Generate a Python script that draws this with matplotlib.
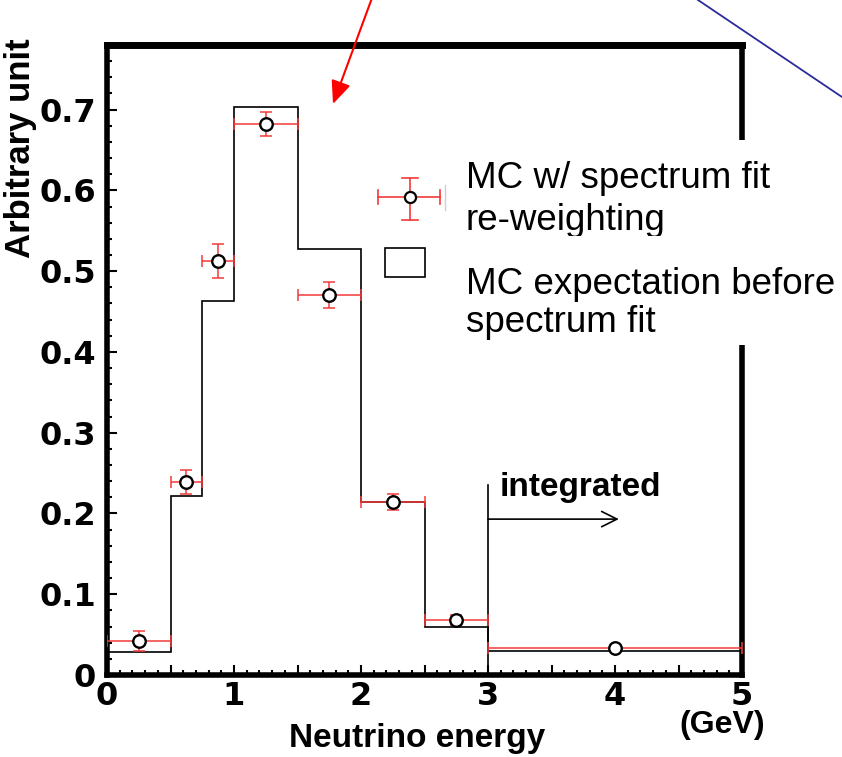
import matplotlib
matplotlib.use("Agg")
import matplotlib.pyplot as plt
from matplotlib.patches import Rectangle, FancyArrowPatch
from matplotlib.lines import Line2D
from matplotlib.ticker import FixedLocator, MultipleLocator, FuncFormatter

plt.rcParams['font.family'] = ['Liberation Sans', 'DejaVu Sans']

# histogram: MC expectation before spectrum fit
edges = [0, 0.5, 0.75, 1.0, 1.5, 2.0, 2.5, 3.0, 5.0]
mc_before = [0.028, 0.222, 0.463, 0.703, 0.528, 0.214, 0.060, 0.030]

# points: MC w/ spectrum fit re-weighting
fit_x = [0.25, 0.625, 0.875, 1.25, 1.75, 2.25, 2.75, 4.0]
fit_xerr = [0.25, 0.125, 0.125, 0.25, 0.25, 0.25, 0.25, 1.0]
fit_y = [0.042, 0.239, 0.513, 0.682, 0.470, 0.214, 0.068, 0.033]
fit_yerr = [0.012, 0.015, 0.021, 0.015, 0.016, 0.010, 0.006, 0.002]

# "integrated" marker
integ_x = 3.0
integ_top = 0.235
integ_arrow_y = 0.193
integ_arrow_end = 4.03

W, H = 842, 757


def fx(px):
    return px / W


def fy(py):
    return 1 - py / H


fig = plt.figure(figsize=(W / 100, H / 100), dpi=100)
ax = fig.add_axes([fx(107), fy(675), fx(742) - fx(107), fy(45) - fy(675)])
ax.set_xlim(0, 5)
ax.set_ylim(0, 0.78)

red = '#f23a3a'

ax.stairs(mc_before, edges, baseline=None, color='black', lw=1.2, zorder=2)
ax.errorbar(fit_x, fit_y, xerr=fit_xerr, yerr=fit_yerr, fmt='none',
            ecolor=red, elinewidth=1.1, capsize=4, capthick=1.1, zorder=3)
ax.plot(fit_x, fit_y, 'o', ms=9, mfc='white', mec='black', mew=1.7,
        zorder=4, ls='none')

# integrated region
ax.plot([integ_x, integ_x], [0, integ_top], color='black', lw=1.2, zorder=2)
ax.annotate('', xy=(integ_arrow_end, integ_arrow_y),
            xytext=(integ_x, integ_arrow_y),
            arrowprops=dict(arrowstyle='->,head_length=0.5,head_width=0.25',
                            color='black', lw=1.2, shrinkA=0, shrinkB=0,
                            mutation_scale=22))
ax.text(3.09, 0.222, 'integrated', fontsize=24, fontweight='bold',
        ha='left', va='baseline')

# frame and ticks
for s in ax.spines.values():
    s.set_linewidth(4)
ax.spines['top'].set_linewidth(5)

ax.xaxis.set_major_locator(FixedLocator([i * 0.5 for i in range(11)]))
ax.xaxis.set_major_formatter(FuncFormatter(
    lambda v, p: '%d' % round(v) if abs(v - round(v)) < 1e-6 else ''))
ax.xaxis.set_minor_locator(MultipleLocator(0.1))
ax.yaxis.set_major_locator(MultipleLocator(0.1))
ax.yaxis.set_major_formatter(FuncFormatter(
    lambda v, p: '0' if abs(v) < 1e-6 else '%.1f' % v))
ax.yaxis.set_minor_locator(MultipleLocator(0.02))
ax.tick_params(which='both', direction='in', top=False, right=False,
               width=1.5, labelsize=23)
ax.tick_params(which='major', length=7.5)
ax.tick_params(which='minor', length=3.8)
ax.tick_params(axis='x', pad=4)
ax.tick_params(axis='y', pad=8)
for lab in ax.get_xticklabels() + ax.get_yticklabels():
    lab.set_fontweight('bold')
    lab.set_family('DejaVu Sans')

# axis titles
fig.text(fx(417), fy(738), 'Neutrino energy', fontsize=24, fontweight='bold',
         ha='center', va='center')
fig.text(fx(722), fy(725), '(GeV)', fontsize=23, fontweight='bold',
         ha='center', va='center')
fig.text(fx(21), fy(38), 'Arbitrary unit', fontsize=25, fontweight='bold',
         rotation=90, ha='center', va='top')

# legend panel (white box covering the right frame)
fig.add_artist(Rectangle((fx(447), fy(345)), fx(842) - fx(447),
                         fy(140) - fy(345), transform=fig.transFigure,
                         facecolor='white', edgecolor='none', zorder=5))
fig.add_artist(Line2D([fx(445), fx(445)], [fy(210), fy(185)],
                      transform=fig.transFigure, color='#d0d0d0', lw=1,
                      zorder=6))
# errorbar sample
fig.add_artist(Line2D([fx(378), fx(440)], [fy(197), fy(197)],
                      transform=fig.transFigure, color=red, lw=1.2, zorder=6))
fig.add_artist(Line2D([fx(410), fx(410)], [fy(178), fy(220)],
                      transform=fig.transFigure, color=red, lw=1.2, zorder=6))
for cx in (378, 440):
    fig.add_artist(Line2D([fx(cx), fx(cx)], [fy(190), fy(204)],
                          transform=fig.transFigure, color=red, lw=1.2,
                          zorder=6))
for cy in (178, 220):
    fig.add_artist(Line2D([fx(402), fx(418)], [fy(cy), fy(cy)],
                          transform=fig.transFigure, color=red, lw=1.2,
                          zorder=6))
fig.add_artist(Line2D([fx(410)], [fy(197)], transform=fig.transFigure,
                      marker='o', ms=8, mfc='white', mec='black', mew=1.6,
                      zorder=7))
# box sample
fig.add_artist(Rectangle((fx(385), fy(277)), fx(425) - fx(385),
                         fy(248) - fy(277), transform=fig.transFigure,
                         facecolor='white', edgecolor='black', lw=1.2,
                         zorder=6))

leg_fs = 26.5
fig.text(fx(466), fy(178), 'MC w/ spectrum fit', fontsize=leg_fs,
         ha='left', va='center', zorder=6)
fig.text(fx(466), fy(221), 're-weighting', fontsize=leg_fs,
         ha='left', va='center', zorder=6)
# the lower part of "re-weighting" is cut off in the original
fig.add_artist(Rectangle((fx(455), fy(262)), fx(700) - fx(455),
                         fy(236) - fy(262), transform=fig.transFigure,
                         facecolor='white', edgecolor='none', zorder=7))
fig.text(fx(466), fy(284), 'MC expectation before', fontsize=leg_fs,
         ha='left', va='center', zorder=8)
fig.text(fx(466), fy(323), 'spectrum fit', fontsize=leg_fs,
         ha='left', va='center', zorder=8)

# pointer lines from outside the plot
fig.add_artist(FancyArrowPatch((fx(372), fy(-2)), (fx(333), fy(104)),
                               transform=fig.transFigure,
                               arrowstyle='-|>,head_length=0.7,head_width=0.3',
                               mutation_scale=20, color='red', lw=1.5,
                               shrinkA=0, shrinkB=0, zorder=9))
fig.add_artist(Line2D([fx(698), fx(842)], [fy(0), fy(97)],
                      transform=fig.transFigure, color='#2b2b9a', lw=1.3,
                      zorder=9))

fig.savefig('out.png', dpi=100)
